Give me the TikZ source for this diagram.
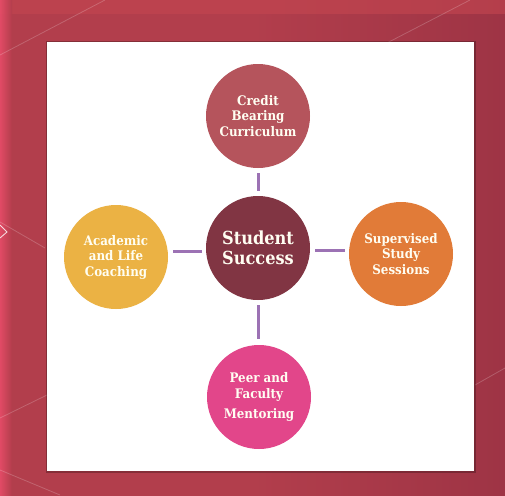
\documentclass[tikz,border=0pt]{standalone}
\usepackage{fontspec}
\setmainfont{DejaVu Serif}
\newfontfamily\bubblefont{DejaVu Serif Condensed}
\begin{document}
\begin{tikzpicture}[x=1pt,y=-1pt,
  bubble/.style={circle,minimum size=104pt,inner sep=0pt,align=center,
    text=white!95!yellow,font=\bubblefont\bfseries\fontsize{13.2}{15.5}\selectfont},
  conn/.style={draw=connc,line width=3pt},
  streak/.style={draw=white,opacity=0.2,line width=0.8pt}]
\definecolor{bgc}{HTML}{B23E4C}
\definecolor{bgdark}{HTML}{9E3445}
\definecolor{bgpink}{HTML}{E64C68}
\definecolor{bgtop}{HTML}{C44650}
\definecolor{cTop}{HTML}{B5545C}
\definecolor{cCen}{HTML}{813543}
\definecolor{cLeft}{HTML}{EBB244}
\definecolor{cRight}{HTML}{E17B38}
\definecolor{cBot}{HTML}{E2468A}
\definecolor{connc}{HTML}{9C72B4}
\useasboundingbox (0,0) rectangle (505,495);
% background
\shade[left color=bgc,right color=bgdark,middle color=bgc] (0,0) rectangle (505,495);
\fill[bgtop,opacity=0.6] (0,0) rectangle (505,14);
\shade[left color=bgpink,right color=bgpink!0!bgc,opacity=0.9] (0,0) rectangle (12,495);
\draw[streak] (470,0) -- (385,44);
\draw[streak] (105,0) -- (0,55);
\draw[streak] (0,222) -- (45,248);
\draw[streak] (0,418) -- (47,395);
\draw[streak] (475,385) -- (505,368);
\draw[streak] (0,470) -- (60,495);
\draw[draw=white,opacity=0.8,line width=0.9pt] (0,225) -- (7,232) -- (0,238);
% white panel
\fill[black,opacity=0.25] (46,41) rectangle (476,473);
\fill[white] (47,42) rectangle (474,471);
% circles
\node[bubble,fill=cCen,font=\bubblefont\bfseries\fontsize{18}{20}\selectfont] (c) at (258,248) {Student\\Success};
\node[bubble,fill=cTop] (t) at (258,116) {Credit\\Bearing\\Curriculum};
\node[bubble,fill=cLeft] (l) at (116,257) {Academic\\and Life\\Coaching};
\node[bubble,fill=cRight] (r) at (401,254) {Supervised\\Study\\Sessions};
\node[bubble,fill=cBot] (b) at (259,397) {Peer and\\Faculty\\[5pt]Mentoring};
% connectors
\draw[conn,shorten <=5pt,shorten >=5pt] (c.north) -- (c.north |- t.south);
\draw[conn,shorten <=5pt,shorten >=6pt] (c.south) -- (c.south |- b.north);
\draw[conn,shorten <=4pt,shorten >=5pt] ([yshift=-3pt]c.west) -- ([yshift=-3pt]c.west -| l.east);
\draw[conn,shorten <=5pt,shorten >=4pt] ([yshift=-2pt]c.east) -- ([yshift=-2pt]c.east -| r.west);
\end{tikzpicture}
\end{document}
